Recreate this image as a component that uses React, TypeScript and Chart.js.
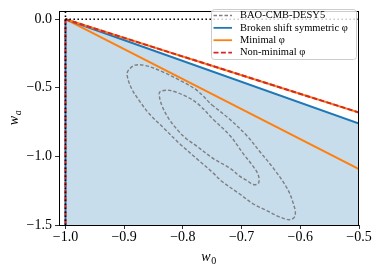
import React, { useEffect, useRef } from "react";
import { Chart, registerables } from "chart.js";
Chart.register(...registerables);

// axis limits and ticks
const xRange = [-1.011, -0.5];
const yRange = [-1.5, 0.057];
const xTicks = [-1.0, -0.9, -0.8, -0.7, -0.6, -0.5];
const yTicks = [0.0, -0.5, -1.0, -1.5];

// model boundary lines (w0 from -1 to -0.5)
const lineW0 = [-1.0, -0.5];
const brokenWa = [0.0, -0.76];
const minimalWa = [0.0, -1.092];
const nonMinimalWa = [0.0, -0.68];
const boundaryW0 = [-1.0, -1.0];
const boundaryWa = [0.0, -1.5];
const zeroWa = [0.0, 0.0];

// BAO-CMB-DESY5 contours
const outerW0 = [-0.7509, -0.7196, -0.6911, -0.6684, -0.6457, -0.6229, -0.6116, -0.6087, -0.6172, -0.6343, -0.657, -0.6799, -0.7026, -0.7338, -0.7481, -0.7765, -0.805, -0.8334, -0.8561, -0.8732, -0.8874, -0.8949, -0.8932, -0.8817, -0.8618, -0.8334, -0.805, -0.7765, -0.7509];
const outerWa = [-0.624, -0.731, -0.849, -0.968, -1.087, -1.229, -1.347, -1.431, -1.461, -1.443, -1.395, -1.347, -1.276, -1.181, -1.122, -1.016, -0.909, -0.79, -0.695, -0.6, -0.505, -0.411, -0.375, -0.335, -0.34, -0.386, -0.446, -0.517, -0.624];
const innerW0 = [-0.7481, -0.7196, -0.6969, -0.6799, -0.6713, -0.6713, -0.6799, -0.6904, -0.7026, -0.7196, -0.7481, -0.7765, -0.7935, -0.8078, -0.8249, -0.8362, -0.8403, -0.8391, -0.8276, -0.8164, -0.7935, -0.7737, -0.7481];
const innerWa = [-0.731, -0.849, -0.982, -1.075, -1.139, -1.196, -1.205, -1.178, -1.146, -1.087, -1.016, -0.925, -0.873, -0.814, -0.719, -0.624, -0.553, -0.529, -0.517, -0.525, -0.564, -0.619, -0.731];

const legendLabels = ["BAO-CMB-DESY5", "Broken shift symmetric φ", "Minimal φ", "Non-minimal φ"];
const legendColors = ["#7f7f7f", "#1f77b4", "#ff7f0e", "#d62728"];
const legendDashes = [[3.5, 2], [], [], [5, 2.4]];

const fmt = (v: number) => (v === 0 ? "0.0" : v.toFixed(1).replace("-", "\u2212"));
const pts = (xs: number[], ys: number[]) => xs.map((x, i) => ({ x, y: ys[i] }));

const decorPlugin = {
  id: "decor",
  afterDatasetsDraw(chart: any) {
    const { ctx, chartArea: a } = chart;
    ctx.save();
    ctx.strokeStyle = "#000";
    ctx.lineWidth = 1;
    ctx.strokeRect(Math.round(a.left) + 0.5, Math.round(a.top) + 0.5, Math.round(a.right - a.left) - 1, Math.round(a.bottom - a.top));
    ctx.restore();
  },
  afterDraw(chart: any) {
    const { ctx, chartArea: a } = chart;
    ctx.save();
    // legend
    const bx = 211.5, by = 9.5, bw = 145, bh = 50, r = 3;
    ctx.beginPath();
    ctx.moveTo(bx + r, by);
    ctx.arcTo(bx + bw, by, bx + bw, by + bh, r);
    ctx.arcTo(bx + bw, by + bh, bx, by + bh, r);
    ctx.arcTo(bx, by + bh, bx, by, r);
    ctx.arcTo(bx, by, bx + bw, by, r);
    ctx.closePath();
    ctx.fillStyle = "rgba(255,255,255,0.8)";
    ctx.fill();
    ctx.strokeStyle = "#cccccc";
    ctx.lineWidth = 1;
    ctx.stroke();
    ctx.font = "10.5px 'Liberation Serif'";
    ctx.textBaseline = "middle";
    ctx.textAlign = "left";
    legendLabels.forEach((lab, i) => {
      const yy = 15.5 + i * 12.35;
      ctx.beginPath();
      ctx.setLineDash(legendDashes[i]);
      ctx.strokeStyle = legendColors[i];
      ctx.lineWidth = i === 0 ? 1.4 : 1.8;
      ctx.moveTo(213.5, yy);
      ctx.lineTo(232, yy);
      ctx.stroke();
      ctx.setLineDash([]);
      ctx.fillStyle = "#000";
      ctx.fillText(lab, 240, yy);
    });
    // axis titles
    ctx.fillStyle = "#000";
    ctx.textBaseline = "alphabetic";
    const cx = (a.left + a.right) / 2;
    ctx.font = "italic 14px 'Liberation Serif'";
    const ww = ctx.measureText("w").width;
    ctx.fillText("w", cx - ww / 2 - 3, 261);
    ctx.font = "10px 'Liberation Serif'";
    ctx.fillText("0", cx - ww / 2 - 3 + ww + 0.5, 264);
    ctx.translate(18, (a.top + a.bottom) / 2 + 7);
    ctx.rotate(-Math.PI / 2);
    ctx.font = "italic 14px 'Liberation Serif'";
    ctx.fillText("w", 0, 0);
    ctx.font = "italic 10px 'Liberation Serif'";
    ctx.fillText("a", ww + 0.5, 3);
    ctx.restore();
  },
};

export default function App() {
  const ref = useRef<HTMLCanvasElement>(null);
  useEffect(() => {
    document.body.style.margin = "0";
    const canvas = ref.current!;
    const base = { showLine: true, pointRadius: 0, pointHoverRadius: 0, fill: false, tension: 0 };
    const tickFont = { family: "'Liberation Serif'", size: 14 };
    const chart = new Chart(canvas, {
      type: "scatter",
      data: {
        datasets: [
          { ...base, data: pts(lineW0, brokenWa), fill: "start", backgroundColor: "rgba(31,119,180,0.25)", borderWidth: 0, order: 10 },
          { ...base, data: pts(outerW0, outerWa), borderColor: "#7f7f7f", borderWidth: 1.4, borderDash: [3.5, 2], tension: 0.35, order: 9 },
          { ...base, data: pts(innerW0, innerWa), borderColor: "#7f7f7f", borderWidth: 1.4, borderDash: [3.5, 2], tension: 0.35, order: 9 },
          { ...base, data: pts(lineW0, minimalWa), borderColor: "#ff7f0e", borderWidth: 2, order: 7 },
          { ...base, data: pts(lineW0, brokenWa), borderColor: "#1f77b4", borderWidth: 2, order: 6 },
          { ...base, data: pts(lineW0, nonMinimalWa), borderColor: "#ff7f0e", borderWidth: 2, order: 5 },
          { ...base, data: pts(lineW0, nonMinimalWa), borderColor: "#d62728", borderWidth: 2, borderDash: [5, 2.4], order: 4 },
          { ...base, data: pts(boundaryW0, boundaryWa), borderColor: "#1f77b4", borderWidth: 2, order: 3 },
          { ...base, data: pts(boundaryW0, boundaryWa), borderColor: "#d62728", borderWidth: 2, borderDash: [5, 2.4], order: 2 },
          { ...base, data: pts(boundaryW0, [yRange[1], yRange[0]]), borderColor: "#000", borderWidth: 1.6, borderDash: [1.5, 2.5], order: 1 },
          { ...base, data: pts(lineW0, zeroWa), borderColor: "#000", borderWidth: 1.6, borderDash: [1.5, 2.5], order: 1 },
        ],
      },
      options: {
        animation: false,
        responsive: false,
        events: [],
        layout: { padding: { top: 6, right: 21, left: 0, bottom: 0 } },
        plugins: { legend: { display: false }, tooltip: { enabled: false } },
        scales: {
          x: {
            type: "linear",
            min: xRange[0],
            max: xRange[1],
            afterBuildTicks: (s: any) => { s.ticks = xTicks.map((v) => ({ value: v })); },
            afterFit: (s: any) => { s.height = 45; },
            ticks: { callback: (v: any) => fmt(Number(v)), font: tickFont, color: "#000", padding: 0, maxRotation: 0, autoSkip: false },
            grid: { display: true, drawOnChartArea: false, drawTicks: true, tickLength: 4, color: "#000", lineWidth: 0.8 },
            border: { display: false },
          },
          y: {
            type: "linear",
            min: yRange[0],
            max: yRange[1],
            afterBuildTicks: (s: any) => { s.ticks = yTicks.map((v) => ({ value: v })); },
            afterFit: (s: any) => { s.width = 59; },
            ticks: { callback: (v: any) => fmt(Number(v)), font: tickFont, color: "#000", padding: 3, autoSkip: false },
            grid: { display: true, drawOnChartArea: false, drawTicks: true, tickLength: 4, color: "#000", lineWidth: 0.8 },
            border: { display: false },
          },
        },
      },
      plugins: [decorPlugin],
    } as any);
    return () => chart.destroy();
  }, []);
  return (
    <div style={{ position: "fixed", left: 0, top: 0, width: 380, height: 270 }}>
      <canvas ref={ref} width={380} height={270} style={{ display: "block" }} />
    </div>
  );
}
